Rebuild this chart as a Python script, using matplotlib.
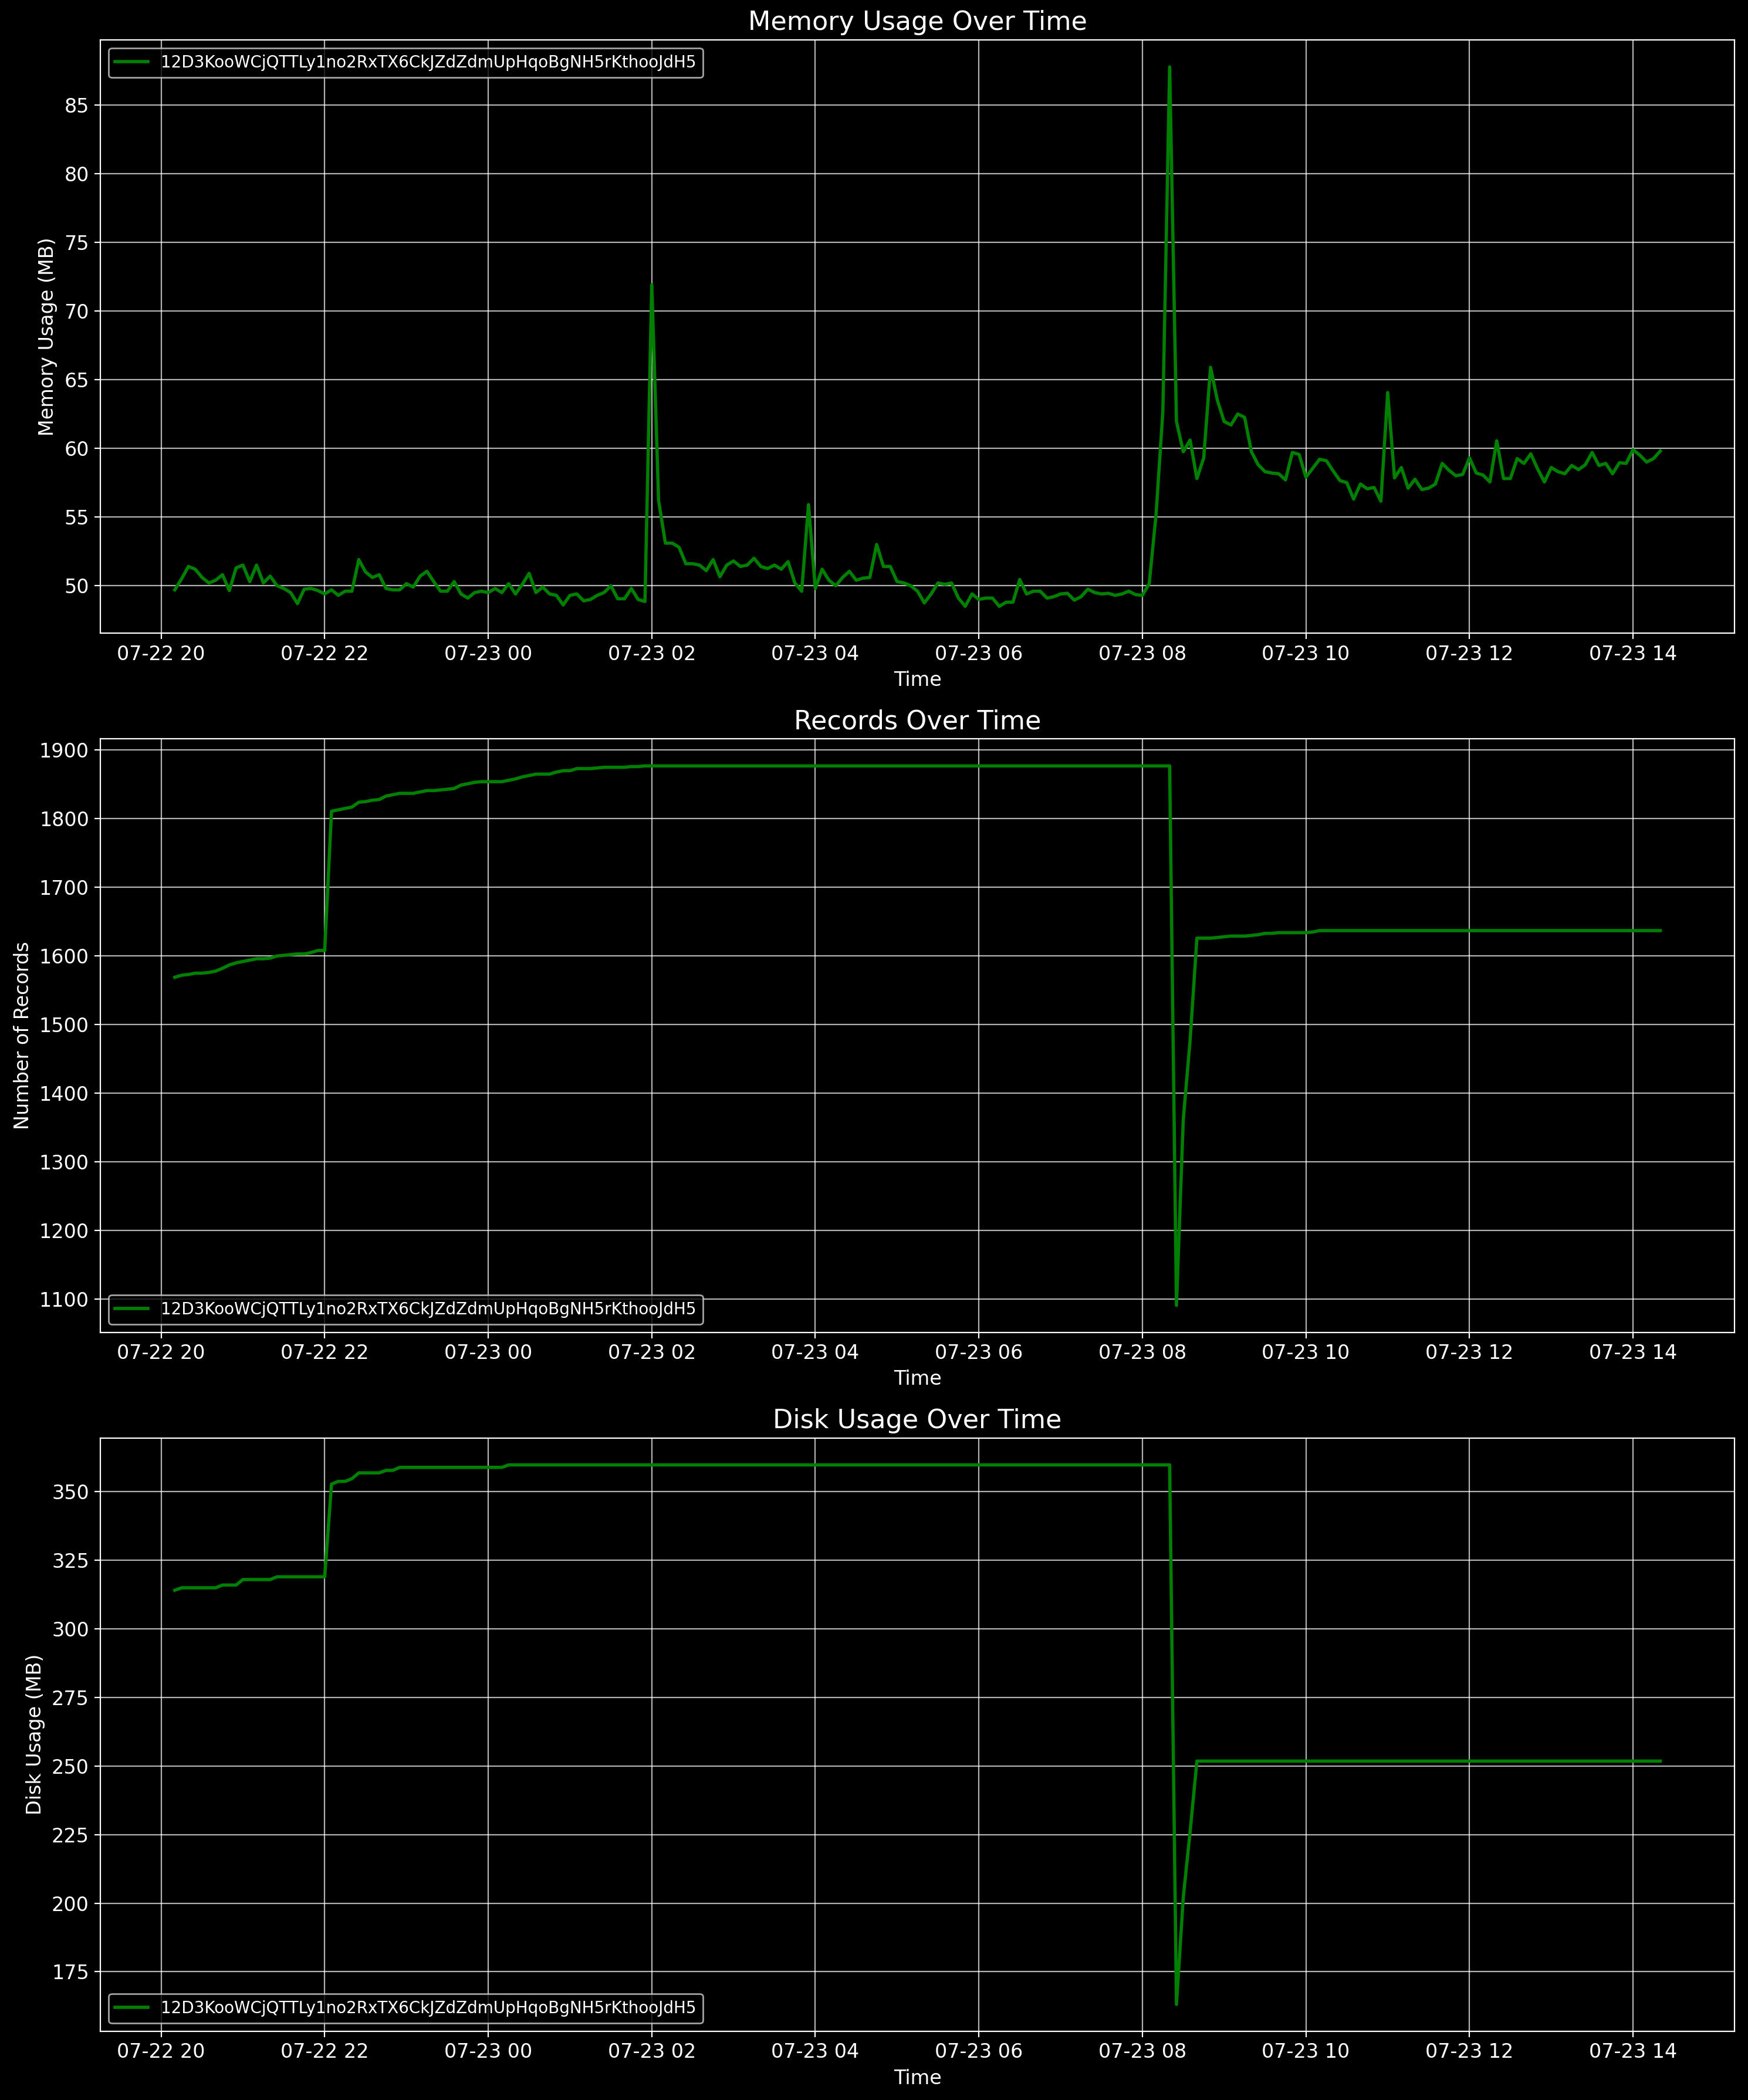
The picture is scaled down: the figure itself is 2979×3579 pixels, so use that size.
import pandas as pd
import matplotlib.pyplot as plt

# --------------------------------------------------
# Data (one sample every 5 minutes)
# --------------------------------------------------
node_id = "12D3KooWCjQTTLy1no2RxTX6CkJZdZdmUpHqoBgNH5rKthooJdH5"
start_time = "2024-07-22 20:10"
sample_step = "5min"

memory_mb = [
    49.7, 50.5, 51.4, 51.2, 50.6, 50.2, 50.4, 50.8, 49.65, 51.3,                      # 20h
    51.5, 50.3, 51.5, 50.2, 50.7, 50.0, 49.8, 49.5, 48.7, 49.75, 49.8, 49.65,         # 21h
    49.4, 49.7, 49.3, 49.6, 49.6, 51.9, 51.0, 50.6, 50.8, 49.8, 49.7, 49.7,           # 22h
    50.15, 49.9, 50.7, 51.05, 50.3, 49.6, 49.6, 50.3, 49.4, 49.1, 49.5, 49.6,         # 23h
    49.5, 49.8, 49.5, 50.15, 49.4, 50.1, 50.9, 49.5, 49.9, 49.4, 49.3, 48.6,          # 00h
    49.3, 49.4, 48.9, 49.0, 49.3, 49.5, 50.0, 49.05, 49.05, 49.8, 49.0, 48.85,        # 01h
    71.9, 56.2, 53.1, 53.1, 52.8, 51.6, 51.6, 51.5, 51.1, 51.9, 50.65, 51.5,          # 02h
    51.8, 51.4, 51.5, 52.0, 51.4, 51.25, 51.5, 51.2, 51.75, 50.2, 49.6, 55.9,         # 03h
    49.8, 51.2, 50.4, 50.0, 50.6, 51.05, 50.4, 50.55, 50.6, 53.0, 51.4, 51.4,         # 04h
    50.3, 50.2, 50.0, 49.6, 48.75, 49.4, 50.2, 50.1, 50.2, 49.1, 48.5, 49.4,          # 05h
    49.0, 49.1, 49.1, 48.5, 48.8, 48.8, 50.45, 49.4, 49.6, 49.6, 49.1, 49.2,          # 06h
    49.4, 49.45, 48.95, 49.2, 49.75, 49.5, 49.4, 49.45, 49.3, 49.4, 49.6, 49.35,      # 07h
    49.3, 50.15, 55.15, 62.65, 87.76, 61.95, 59.75, 60.6, 57.8, 59.3, 65.9, 63.5,     # 08h
    61.95, 61.7, 62.5, 62.25, 59.75, 58.8, 58.3, 58.2, 58.15, 57.7, 59.7, 59.55,      # 09h
    57.9, 58.55, 59.2, 59.1, 58.35, 57.65, 57.5, 56.3, 57.4, 57.05, 57.15, 56.15,     # 10h
    64.06, 57.85, 58.6, 57.1, 57.75, 57.0, 57.1, 57.4, 58.9, 58.4, 58.0, 58.1,        # 11h
    59.3, 58.2, 58.05, 57.55, 60.55, 57.8, 57.8, 59.25, 58.9, 59.6, 58.5, 57.55,      # 12h
    58.6, 58.3, 58.15, 58.75, 58.45, 58.8, 59.7, 58.75, 58.9, 58.15, 58.95, 58.9,     # 13h
    59.9, 59.5, 59.0, 59.25, 59.8,                                                    # 14h
]

records = [
    1569, 1572, 1573, 1575, 1575, 1576, 1578, 1582, 1587, 1590,                       # 20h
    1592, 1594, 1596, 1596, 1597, 1600, 1601, 1602, 1603, 1603, 1605, 1608,           # 21h
    1608, 1811, 1813, 1815, 1817, 1824, 1825, 1827, 1828, 1833, 1835, 1837,           # 22h
    1837, 1837, 1839, 1841, 1841, 1842, 1843, 1844, 1849, 1851, 1853, 1854,           # 23h
    1854, 1854, 1854, 1856, 1858, 1861, 1863, 1865, 1865, 1865, 1868, 1870,           # 00h
    1870, 1873, 1873, 1873, 1874, 1875, 1875, 1875, 1875, 1876, 1876, 1877,           # 01h
    1877, 1877, 1877, 1877, 1877, 1877, 1877, 1877, 1877, 1877, 1877, 1877,           # 02h
    1877, 1877, 1877, 1877, 1877, 1877, 1877, 1877, 1877, 1877, 1877, 1877,           # 03h
    1877, 1877, 1877, 1877, 1877, 1877, 1877, 1877, 1877, 1877, 1877, 1877,           # 04h
    1877, 1877, 1877, 1877, 1877, 1877, 1877, 1877, 1877, 1877, 1877, 1877,           # 05h
    1877, 1877, 1877, 1877, 1877, 1877, 1877, 1877, 1877, 1877, 1877, 1877,           # 06h
    1877, 1877, 1877, 1877, 1877, 1877, 1877, 1877, 1877, 1877, 1877, 1877,           # 07h
    1877, 1877, 1877, 1877, 1877, 1091, 1362, 1477, 1626, 1626, 1626, 1627,           # 08h
    1628, 1629, 1629, 1629, 1630, 1631, 1633, 1633, 1634, 1634, 1634, 1634,           # 09h
    1634, 1635, 1637, 1637, 1637, 1637, 1637, 1637, 1637, 1637, 1637, 1637,           # 10h
    1637, 1637, 1637, 1637, 1637, 1637, 1637, 1637, 1637, 1637, 1637, 1637,           # 11h
    1637, 1637, 1637, 1637, 1637, 1637, 1637, 1637, 1637, 1637, 1637, 1637,           # 12h
    1637, 1637, 1637, 1637, 1637, 1637, 1637, 1637, 1637, 1637, 1637, 1637,           # 13h
    1637, 1637, 1637, 1637, 1637,                                                     # 14h
]

disk_mb = [
    314.1, 315.0, 315.0, 315.0, 315.0, 315.0, 315.0, 316.0, 316.0, 316.0,             # 20h
    318.0, 318.0, 318.0, 318.0, 318.0, 319.0, 319.0, 319.0, 319.0, 319.0, 319.0, 319.0,  # 21h
    319.0, 352.8, 353.8, 353.8, 354.8, 356.9, 356.9, 356.9, 356.9, 357.8, 357.8, 358.9,  # 22h
    358.9, 358.9, 358.9, 358.9, 358.9, 358.9, 358.9, 358.9, 358.9, 358.9, 358.9, 358.9,  # 23h
    358.9, 358.9, 358.9, 359.8, 359.8, 359.8, 359.8, 359.8, 359.8, 359.8, 359.8, 359.8,  # 00h
    359.8, 359.8, 359.8, 359.8, 359.8, 359.8, 359.8, 359.8, 359.8, 359.8, 359.8, 359.8,  # 01h
    359.8, 359.8, 359.8, 359.8, 359.8, 359.8, 359.8, 359.8, 359.8, 359.8, 359.8, 359.8,  # 02h
    359.8, 359.8, 359.8, 359.8, 359.8, 359.8, 359.8, 359.8, 359.8, 359.8, 359.8, 359.8,  # 03h
    359.8, 359.8, 359.8, 359.8, 359.8, 359.8, 359.8, 359.8, 359.8, 359.8, 359.8, 359.8,  # 04h
    359.8, 359.8, 359.8, 359.8, 359.8, 359.8, 359.8, 359.8, 359.8, 359.8, 359.8, 359.8,  # 05h
    359.8, 359.8, 359.8, 359.8, 359.8, 359.8, 359.8, 359.8, 359.8, 359.8, 359.8, 359.8,  # 06h
    359.8, 359.8, 359.8, 359.8, 359.8, 359.8, 359.8, 359.8, 359.8, 359.8, 359.8, 359.8,  # 07h
    359.8, 359.8, 359.8, 359.8, 359.8, 163.1, 202.1, 226.0, 251.8, 251.8, 251.8, 251.8,  # 08h
    251.8, 251.8, 251.8, 251.8, 251.8, 251.8, 251.8, 251.8, 251.8, 251.8, 251.8, 251.8,  # 09h
    251.8, 251.8, 251.8, 251.8, 251.8, 251.8, 251.8, 251.8, 251.8, 251.8, 251.8, 251.8,  # 10h
    251.8, 251.8, 251.8, 251.8, 251.8, 251.8, 251.8, 251.8, 251.8, 251.8, 251.8, 251.8,  # 11h
    251.8, 251.8, 251.8, 251.8, 251.8, 251.8, 251.8, 251.8, 251.8, 251.8, 251.8, 251.8,  # 12h
    251.8, 251.8, 251.8, 251.8, 251.8, 251.8, 251.8, 251.8, 251.8, 251.8, 251.8, 251.8,  # 13h
    251.8, 251.8, 251.8, 251.8, 251.8,                                                # 14h
]

times = pd.date_range(start_time, periods=len(memory_mb), freq=sample_step)

# --------------------------------------------------
# Plot
# --------------------------------------------------
plt.style.use("dark_background")
plt.rcParams["font.size"] = 12

fig, axes = plt.subplots(3, 1, figsize=(14.895, 17.895), dpi=200)

panels = [
    (memory_mb, "Memory Usage Over Time", "Memory Usage (MB)", "upper left"),
    (records, "Records Over Time", "Number of Records", "lower left"),
    (disk_mb, "Disk Usage Over Time", "Disk Usage (MB)", "lower left"),
]

for ax, (values, title, ylabel, legend_loc) in zip(axes, panels):
    ax.plot(times, values, color="green", linewidth=2, label=node_id)
    ax.set_title(title, fontsize=16)
    ax.set_xlabel("Time", fontsize=12)
    ax.set_ylabel(ylabel, fontsize=12)
    ax.grid(True, alpha=0.7)
    ax.legend(loc=legend_loc, fontsize=10)

plt.subplots_adjust(left=0.0575, right=0.9923, top=0.981, bottom=0.0327, hspace=0.178)
plt.savefig("out.png", dpi=200)
plt.close()
